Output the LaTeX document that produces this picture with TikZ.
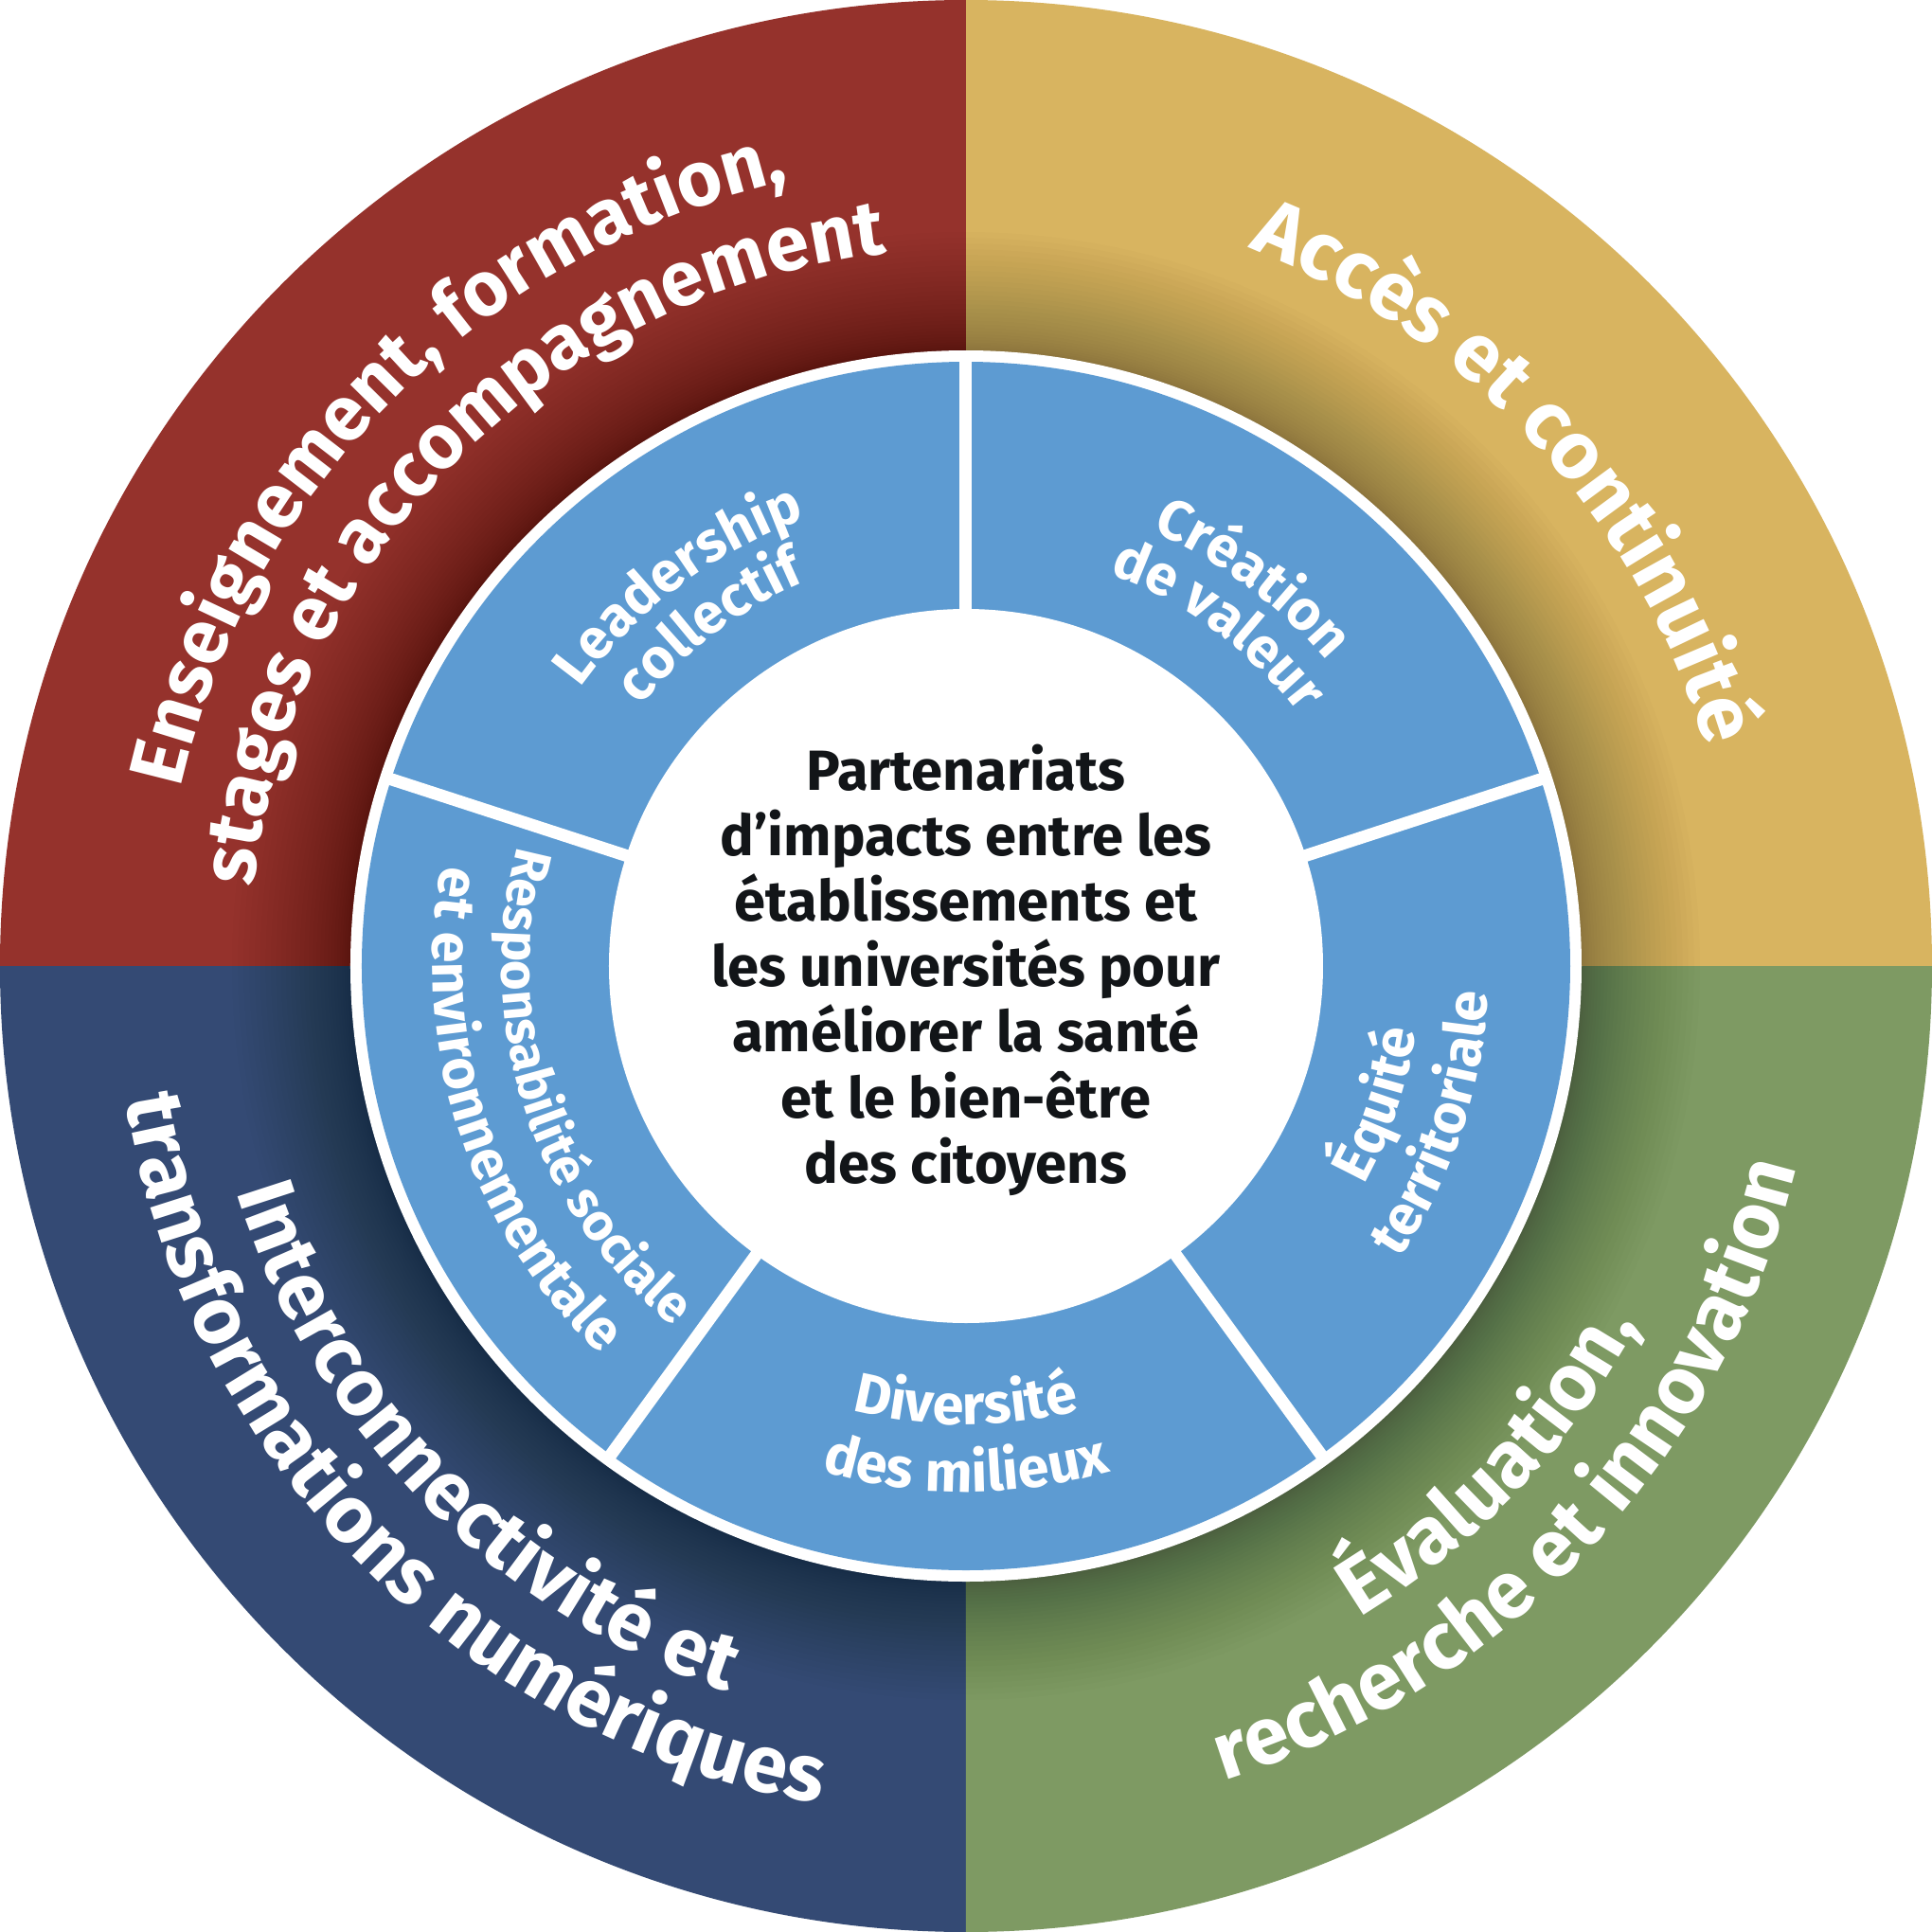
\documentclass[tikz,border=0pt]{standalone}
\usepackage{fontspec}
\setmainfont{Fira Sans}
\usetikzlibrary{decorations.text}
\definecolor{qred}{HTML}{95322C}
\definecolor{qyellow}{HTML}{D8B460}
\definecolor{qgreen}{HTML}{7E9A63}
\definecolor{qnavy}{HTML}{344A74}
\definecolor{ringblue}{HTML}{5D9BD2}
\definecolor{inkblack}{HTML}{121518}
\newcommand\myOuterFont{\color{white}\bfseries\fontsize{23.2}{27}\selectfont}
\newcommand\myAccesFont{\color{white}\bfseries\fontsize{24.3}{28}\selectfont}
\newcommand\myLowerFont{\color{white}\bfseries\fontsize{24.2}{28}\selectfont}
\newcommand\myInnerFont{\color{white}\bfseries\fontsize{16.9}{20}\selectfont}
\newcommand\myRespFont{\color{white}\bfseries\fontsize{15.6}{19}\selectfont}
\tikzset{
  outerlbl/.style={decorate,decoration={text along path,text align=center,text={|\myOuterFont|#1}}},
  acceslbl/.style={decorate,decoration={text along path,text align=center,text={|\myAccesFont|#1}}},
  lowerlbl/.style={decorate,decoration={text along path,text align=center,text={|\myLowerFont|#1}}},
  innerlbl/.style={decorate,decoration={text along path,text align=center,text={|\myInnerFont|#1}}},
  resplbl/.style={decorate,decoration={text along path,text align=center,text={|\myRespFont|#1}}},
  centerline/.style={anchor=base,inner sep=0pt,text=inkblack,font=\bfseries\fontsize{17}{20}\selectfont},
  sepline/.style={white,line width=0.13cm}
}
\begin{document}
\begin{tikzpicture}
\useasboundingbox (-10.2,-10.2) rectangle (10.2,10.2);
\fill[white] (-10.2,-10.2) rectangle (10.2,10.2);
% quadrants
\fill[qyellow] (0,0) -- (0:10.2) arc[start angle=0,end angle=90,radius=10.2] -- cycle;
\fill[qred] (0,0) -- (90:10.2) arc[start angle=90,end angle=180,radius=10.2] -- cycle;
\fill[qnavy] (0,0) -- (180:10.2) arc[start angle=180,end angle=270,radius=10.2] -- cycle;
\fill[qgreen] (0,0) -- (270:10.2) arc[start angle=270,end angle=360,radius=10.2] -- cycle;
% inner shadow
\foreach \i in {1,...,30}{
  \pgfmathsetmacro\rr{6.5+1.25*(\i/30)^1.5}
  \fill[black,opacity=0.013] (0,0) circle[radius=\rr];
}
% ring
\fill[white] (0,0) circle[radius=6.5];
\fill[ringblue] (0,0) circle[radius=6.38];
\fill[white] (0,0) circle[radius=3.77];
\foreach \a in {90,18,-54,-126,162}
  \draw[sepline] (\a:3.7) -- (\a:6.45);
% outer labels
\path[outerlbl={Enseignement, formation,}] (215:8.50) arc[start angle=215,end angle=55,radius=8.50];
\path[outerlbl={stages et accompagnement}] (215:7.57) arc[start angle=215,end angle=55,radius=7.57];
\path[acceslbl={Accès et continuité}] (122.5:8.15) arc[start angle=122.5,end angle=-37.5,radius=8.15];
\path[lowerlbl={Évaluation,}] (-123.5:8.04) arc[start angle=-123.5,end angle=36.5,radius=8.04];
\path[lowerlbl={recherche et innovation}] (-123:9.02) arc[start angle=-123,end angle=37,radius=9.02];
\path[lowerlbl={Interconnectivité et}] (144.5:8.06) arc[start angle=144.5,end angle=304.5,radius=8.06];
\path[lowerlbl={transformations numériques}] (144.5:8.98) arc[start angle=144.5,end angle=304.5,radius=8.98];
% inner labels
\path[innerlbl={Leadership}] (207:5.02) arc[start angle=207,end angle=47,radius=5.02];
\path[innerlbl={collectif}] (207:4.40) arc[start angle=207,end angle=47,radius=4.40];
\path[innerlbl={Création}] (133.5:4.99) arc[start angle=133.5,end angle=-26.5,radius=4.99];
\path[innerlbl={de valeur}] (133.5:4.41) arc[start angle=133.5,end angle=-26.5,radius=4.41];
\path[innerlbl={Équité}] (-98.5:4.80) arc[start angle=-98.5,end angle=61.5,radius=4.80];
\path[innerlbl={territoriale}] (-98.5:5.52) arc[start angle=-98.5,end angle=61.5,radius=5.52];
\path[innerlbl={Diversité}] (-170:4.84) arc[start angle=-170,end angle=-10,radius=4.84];
\path[innerlbl={des milieux}] (-170:5.55) arc[start angle=-170,end angle=-10,radius=5.55];
\path[resplbl={Responsabilité sociale}] (118:4.90) arc[start angle=118,end angle=278,radius=4.90];
\path[innerlbl={et environnementale}] (118:5.63) arc[start angle=118,end angle=278,radius=5.63];
% centre text
\node[centerline] (c1) at (0,1.86) {Partenariats};
\node[centerline] (c2) at (0,1.168) {d’impacts entre les};
\node[centerline] (c3) at (0,0.476) {établissements et};
\node[centerline] (c4) at (0,-0.216) {les universités pour};
\node[centerline] (c5) at (0,-0.908) {améliorer la santé};
\node[centerline] (c6) at (0,-1.60) {et le bien-être};
\node[centerline] (c7) at (0,-2.292) {des citoyens};
\end{tikzpicture}
\end{document}
